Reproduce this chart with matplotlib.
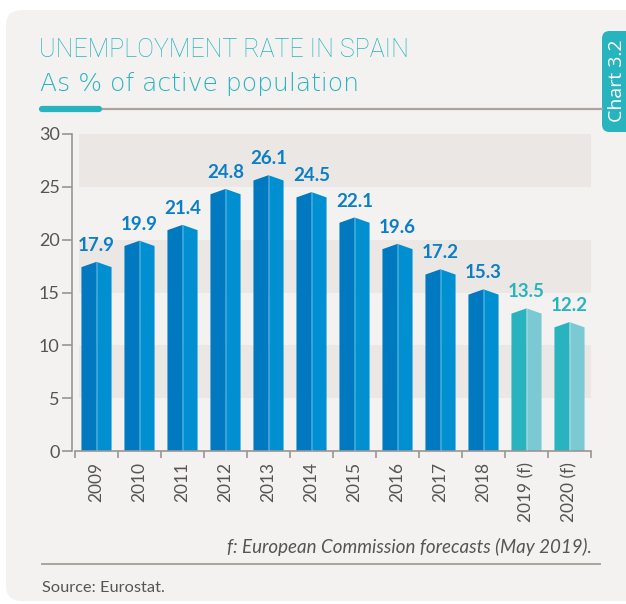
import matplotlib
matplotlib.use("Agg")
import matplotlib.pyplot as plt
from matplotlib.patches import Polygon, FancyBboxPatch
from matplotlib.lines import Line2D

# Data
years = ["2009", "2010", "2011", "2012", "2013", "2014", "2015", "2016",
         "2017", "2018", "2019 (f)", "2020 (f)"]
rates = [17.9, 19.9, 21.4, 24.8, 26.1, 24.5, 22.1, 19.6, 17.2, 15.3, 13.5, 12.2]
forecast = [False] * 10 + [True, True]
y_ticks = [0, 5, 10, 15, 20, 25, 30]

W, H = 626, 604
fig = plt.figure(figsize=(W / 100, H / 100), dpi=100)
fig.patch.set_facecolor("white")

TEAL = "#27b4bf"
PANEL = "#f3f2f0"
BAND = "#ebe7e5"
GREY_TXT = "#555555"
AX_GREY = "#9b9592"

def fx(px):
    return px / W

def fy(py):
    return 1 - py / H

# Background card
card = FancyBboxPatch((fx(6), fy(601)), fx(640) - fx(6), fy(10) - fy(601),
                      boxstyle="round,pad=0,rounding_size=0.025",
                      transform=fig.transFigure, facecolor=PANEL,
                      edgecolor="none", zorder=-5, mutation_aspect=W / H)
fig.patches.append(card)

# Side tab
tab = FancyBboxPatch((fx(602), fy(132)), fx(650) - fx(602), fy(31) - fy(132),
                     boxstyle="round,pad=0,rounding_size=0.012",
                     transform=fig.transFigure, facecolor=TEAL,
                     edgecolor="none", zorder=1, mutation_aspect=W / H)
fig.patches.append(tab)
fig.text(fx(617), fy(81), "Chart 3.2", rotation=90, color="white",
         fontsize=14, family="Open Sans", ha="center", va="center", zorder=2)

# Titles
fig.text(fx(39), fy(57), "UNEMPLOYMENT RATE IN SPAIN", color=TEAL,
         fontsize=18, family="Roboto", fontweight="light", ha="left",
         va="baseline")
fig.text(fx(40), fy(91), "As % of active population", color=TEAL,
         fontsize=18, family="DejaVu Sans", fontweight="light", ha="left",
         va="baseline")

# Rule under the titles
fig.add_artist(Line2D([fx(42), fx(602)], [fy(109), fy(109)],
                      transform=fig.transFigure, color="#aaa39e", lw=1.6))
fig.add_artist(Line2D([fx(42), fx(99)], [fy(109), fy(109)],
                      transform=fig.transFigure, color=TEAL, lw=4.5,
                      solid_capstyle="round"))

# Plot area
ax = fig.add_axes([fx(75), fy(451), fx(591) - fx(75), fy(134) - fy(451)])
ax.set_facecolor("none")
ax.set_xlim(-0.5, len(years) - 0.5)
ax.set_ylim(0, 30)

for lo in (5, 15, 25):
    ax.axhspan(lo, lo + 5, xmin=0.008, xmax=1, color=BAND, lw=0, zorder=0)

bar_w = 0.70
peak = 0.5
for i, (v, f) in enumerate(zip(rates, forecast)):
    left_c, right_c = ("#29b3be", "#7bc9d2") if f else ("#0079c1", "#008fd0")
    x0, x1 = i - bar_w / 2, i + bar_w / 2
    ax.add_patch(Polygon([(x0, 0), (x0, v - peak), (i, v), (i, 0)],
                         closed=True, facecolor=left_c, edgecolor="none",
                         zorder=2))
    ax.add_patch(Polygon([(i, 0), (i, v), (x1, v - peak), (x1, 0)],
                         closed=True, facecolor=right_c, edgecolor="none",
                         zorder=2))
    ax.plot([i, i], [0, v], color="white", alpha=0.25, lw=0.6, zorder=3)
    ax.text(i, v + 0.75, f"{v:.1f}", ha="center", va="bottom",
            color=(TEAL if f else "#0a7fc6"), fontsize=13.5,
            family="Lato", fontweight="bold", zorder=4)

# Axes styling
for s in ("top", "right"):
    ax.spines[s].set_visible(False)
ax.spines["left"].set_color(AX_GREY)
ax.spines["bottom"].set_color(AX_GREY)
ax.spines["left"].set_linewidth(1.2)
ax.spines["bottom"].set_linewidth(1.2)
ax.spines["left"].set_position(("outward", 2))

ax.set_yticks(y_ticks)
ax.set_yticklabels([str(t) for t in y_ticks], family="Lato", fontsize=13,
                   color=GREY_TXT)
ax.tick_params(axis="y", length=7, width=1.2, color=AX_GREY, pad=2)

ax.set_xticks([i - 0.5 for i in range(len(years) + 1)], minor=False)
ax.set_xticklabels([])
ax.tick_params(axis="x", which="major", length=5, width=1.2,
               color=AX_GREY, direction="out")
ax.set_xticks(range(len(years)), minor=True)
ax.set_xticklabels(years, minor=True, rotation=90, family="Lato",
                   fontsize=12.5, color=GREY_TXT, va="top", ha="center")
ax.tick_params(axis="x", which="minor", length=0, pad=8)

# Footnotes
fig.text(fx(592), fy(553), "f: European Commission forecasts (May 2019).",
         ha="right", va="baseline", fontsize=13.5, family="Lato",
         style="italic", color=GREY_TXT)
fig.add_artist(Line2D([fx(42), fx(600)], [fy(564), fy(564)],
                      transform=fig.transFigure, color="#aaa39e", lw=1.4))
fig.text(fx(42), fy(592), "Source: Eurostat.", ha="left", va="baseline",
         fontsize=11.8, family="Lato", color=GREY_TXT)

fig.savefig("out.png", dpi=100, facecolor=fig.get_facecolor())
